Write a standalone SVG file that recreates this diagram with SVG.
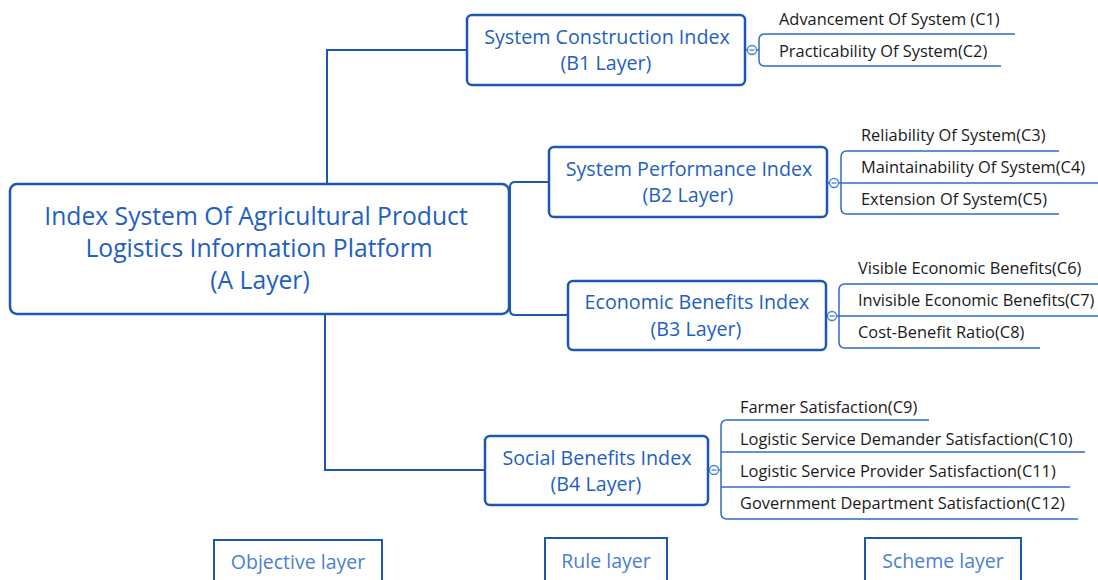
<svg xmlns="http://www.w3.org/2000/svg" width="1098" height="580" viewBox="0 0 1098 580">
<style>
.node{fill:#fff;stroke:#1c58b0;stroke-width:2.5}
.lbl{fill:#1f5fbf;font-family:"Open Sans","Noto Sans",sans-serif;text-anchor:middle}
.big{font-size:24.7px}
.mid{font-size:19.7px}
.leaf{fill:#1a1a1a;font-family:"Open Sans","Noto Sans",sans-serif;font-size:16.4px}
.con{fill:none;stroke:#1c58b0;stroke-width:2}
.ul{fill:none;stroke:#2f6cc4;stroke-width:1.5}
.tog{fill:#fff;stroke:#4a7fd0;stroke-width:1.3}
.bot{fill:#fff;stroke:#1c58b0;stroke-width:2}
.botl{fill:#4a7fd0;font-family:"Open Sans","Noto Sans",sans-serif;font-size:19.5px;text-anchor:middle}
</style>
<rect width="1098" height="580" fill="#fff"/>
<g id="connectors">
<path class="con" d="M327,184 V50 H467"/>
<path class="con" d="M325,314 V470 H485"/>
<path class="con" d="M548,182 H515 Q510,182 510,187 V310 Q510,315 515,315 H568"/>
<path class="ul" d="M1015,34 H765 Q759,34 759,40 V60 Q759,66 765,66 H1001"/>
<path class="ul" d="M746,50 H759"/>
<path class="ul" d="M1059,151 H847 Q841,151 841,157 V208 Q841,214 847,214 H1059"/>
<path class="ul" d="M828,183 H1098"/>
<path class="ul" d="M1098,284 H845 Q839,284 839,290 V342 Q839,348 845,348 H1040"/>
<path class="ul" d="M827,316 H1098"/>
<path class="ul" d="M929,420 H727 Q721,420 721,426 V513 Q721,519 727,519 H1078"/>
<path class="ul" d="M721,452 H1085"/>
<path class="ul" d="M721,487 H1070"/>
<path class="ul" d="M709,470 H721"/>
</g>
<g id="nodeA">
<rect class="node" x="10" y="184" width="499" height="130" rx="7"/>
<text class="lbl big" x="256" y="225">Index System Of Agricultural Product</text>
<text class="lbl big" x="259" y="257">Logistics Information Platform</text>
<text class="lbl big" x="260" y="289">(A Layer)</text>
</g>
<g id="nodeB1">
<rect class="node" x="467" y="15" width="278" height="70" rx="5"/>
<text class="lbl mid" x="607" y="44">System Construction Index</text>
<text class="lbl mid" x="606" y="70">(B1 Layer)</text>
<circle class="tog" cx="752" cy="50" r="4.5"/><path class="tog" d="M749.5,50 H754.5"/>
</g>
<g id="nodeB2">
<rect class="node" x="549" y="147" width="278" height="70" rx="5"/>
<text class="lbl mid" x="689" y="176">System Performance Index</text>
<text class="lbl mid" x="688" y="202">(B2 Layer)</text>
<circle class="tog" cx="834" cy="183" r="4.5"/><path class="tog" d="M831.5,183 H836.5"/>
</g>
<g id="nodeB3">
<rect class="node" x="568" y="281" width="258" height="69" rx="5"/>
<text class="lbl mid" x="697" y="309">Economic Benefits Index</text>
<text class="lbl mid" x="696" y="336">(B3 Layer)</text>
<circle class="tog" cx="832" cy="316" r="4.5"/><path class="tog" d="M829.5,316 H834.5"/>
</g>
<g id="nodeB4">
<rect class="node" x="485" y="436" width="223" height="69" rx="5"/>
<text class="lbl mid" x="597" y="465">Social Benefits Index</text>
<text class="lbl mid" x="596" y="491">(B4 Layer)</text>
<circle class="tog" cx="714" cy="470" r="4.5"/><path class="tog" d="M711.5,470 H716.5"/>
</g>
<g id="leavesB1">
<text class="leaf" x="779" y="25">Advancement Of System (C1)</text>
<text class="leaf" x="779" y="57">Practicability Of System(C2)</text>
</g>
<g id="leavesB2">
<text class="leaf" x="861" y="141">Reliability Of System(C3)</text>
<text class="leaf" x="861" y="173">Maintainability Of System(C4)</text>
<text class="leaf" x="861" y="205">Extension Of System(C5)</text>
</g>
<g id="leavesB3">
<text class="leaf" x="858" y="274">Visible Economic Benefits(C6)</text>
<text class="leaf" x="858" y="306">Invisible Economic Benefits(C7)</text>
<text class="leaf" x="858" y="338">Cost-Benefit Ratio(C8)</text>
</g>
<g id="leavesB4">
<text class="leaf" x="740" y="413">Farmer Satisfaction(C9)</text>
<text class="leaf" x="740" y="445">Logistic Service Demander Satisfaction(C10)</text>
<text class="leaf" x="740" y="477">Logistic Service Provider Satisfaction(C11)</text>
<text class="leaf" x="740" y="509">Government Department Satisfaction(C12)</text>
</g>
<g id="objective">
<rect class="bot" x="214" y="540" width="168" height="50"/>
<text class="botl" x="298" y="569">Objective layer</text>
</g>
<g id="rule">
<rect class="bot" x="545" y="538" width="122" height="50"/>
<text class="botl" x="606" y="568">Rule layer</text>
</g>
<g id="scheme">
<rect class="bot" x="865" y="538" width="156" height="50"/>
<text class="botl" x="943" y="568">Scheme layer</text>
</g>
</svg>
